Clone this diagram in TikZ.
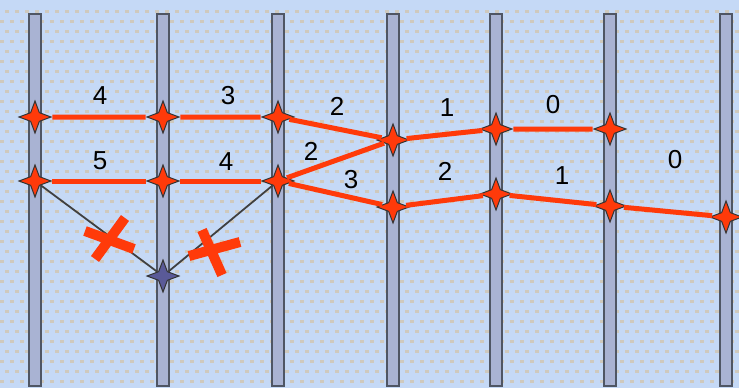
\documentclass[tikz,border=0pt]{standalone}
\usepackage{fontspec}
\setmainfont{Liberation Sans}
\usetikzlibrary{shapes.geometric}
\definecolor{bgblue}{HTML}{C5D9F6}
\definecolor{dotgray}{HTML}{CFC9BD}
\definecolor{barfill}{HTML}{A9B3D3}
\definecolor{baredge}{HTML}{4F5664}
\definecolor{hotred}{HTML}{FF3A0A}
\definecolor{vio}{HTML}{5A5A98}
\tikzstyle{rail} = [draw=baredge, fill=barfill, line width=1.2]
\tikzstyle{spark} = [star, star points=4, star point ratio=2.6,
    minimum size=32, inner sep=0, fill=hotred, draw=black!80, line width=1]
\tikzstyle{deadspark} = [spark, fill=vio]
\tikzstyle{hop} = [draw=hotred, line width=5]
\tikzstyle{oldhop} = [draw=gray!50!black, line width=1.8]
\tikzstyle{cost} = [font=\fontsize{26}{30}\selectfont, inner sep=0]
\tikzstyle{nope} = [draw=hotred, line width=10]

\begin{document}
\begin{tikzpicture}[x=1pt, y=-1pt]
\useasboundingbox (0,0) rectangle (739,388);
\fill[bgblue] (0,0) rectangle (739,388);
\foreach \i in {0,...,73}
    \foreach \j in {1,...,38}
        \fill[dotgray] ({\i*10+mod(\j,2)*5},{\j*10}) rectangle +(4,3);
% rails
\foreach \x in {35,163,278,393,496,610,726}
    \draw[rail] (\x-6,14) rectangle (\x+6,386);
% stars
\node[spark] (s1t) at (35,117) {};
\node[spark] (s1b) at (35,181) {};
\node[spark] (s2t) at (163,117) {};
\node[spark] (s2b) at (163,181) {};
\node[deadspark] (s2v) at (163,276) {};
\node[spark] (s3t) at (278,117) {};
\node[spark] (s3b) at (278,181) {};
\node[spark] (s4t) at (393,140) {};
\node[spark] (s4b) at (393,207) {};
\node[spark] (s5t) at (496,129) {};
\node[spark] (s5b) at (496,194) {};
\node[spark] (s6t) at (610,129) {};
\node[spark] (s6b) at (610,206) {};
\node[spark] (s7b) at (726,217) {};
% paths
\draw[hop] (s1t) -- (s2t) -- (s3t) -- (s4t);
\draw[hop] (s1b) -- (s2b) -- (s3b);
\draw[hop] (s4t) -- (s3b) -- (s4b);
\draw[hop] (s4t) -- (s5t) -- (s6t);
\draw[hop] (s4b) -- (s5b) -- (s6b) -- (s7b);
\draw[oldhop] (s1b) -- (s2v) -- (s3b);
% crosses
\draw[nope] (125,218) -- (95,259) (85,231) -- (134,249);
\draw[nope] (202,230) -- (222,275) (189,256) -- (240,242);
% costs
\node[cost] (c1) at (100,96) {4};
\node[cost] (c2) at (228,96) {3};
\node[cost] (c3) at (100,161) {5};
\node[cost] (c4) at (226,162) {4};
\node[cost] (c5) at (337,106) {2};
\node[cost] (c6) at (311,151) {2};
\node[cost] (c7) at (351,180) {3};
\node[cost] (c8) at (447,108) {1};
\node[cost] (c9) at (553,105) {0};
\node[cost] (c10) at (445,171) {2};
\node[cost] (c11) at (562,176) {1};
\node[cost] (c12) at (675,160) {0};
\end{tikzpicture}
\end{document}
